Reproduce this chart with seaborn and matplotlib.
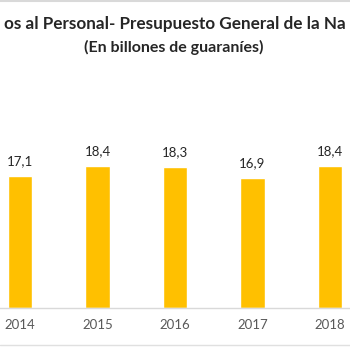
import matplotlib
matplotlib.use("Agg")
import matplotlib.pyplot as plt
import seaborn as sns
import pandas as pd
from matplotlib.lines import Line2D

################ DATA ################
years = ['2014', '2015', '2016', '2017', '2018']
values = [17.1, 18.4, 18.3, 16.9, 18.4]
value_labels = ['17,1', '18,4', '18,3', '16,9', '18,4']

# title as it shows in the (cropped) reference
title = "os al Personal- Presupuesto General de la Na"
subtitle = "(En billones de guaraníes)"

df = pd.DataFrame({'year': years, 'value': values})

################ STYLE ################
sns.set_style("white")
plt.rcParams['font.family'] = ['Lato', 'DejaVu Sans']

fig = plt.figure(figsize=(3.5, 3.5), dpi=100)
# axes spans full width; bottom at pixel 308 from top
ax = fig.add_axes([0.0, 42 / 350, 1.0, 238 / 350])

sns.barplot(data=df, x='year', y='value', color='#FFC000', saturation=1,
            width=0.31, ax=ax)

ax.set_xlim(-20 / 77.5, 330 / 77.5)
ax.set_ylim(0, 238 / 7.72)

for i, (v, lab) in enumerate(zip(values, value_labels)):
    ax.annotate(lab, (i, v), xytext=(0, 6), textcoords='offset points',
                ha='center', va='bottom', fontsize=9.5, color='#262626')

ax.set_xlabel('')
ax.set_ylabel('')
ax.set_yticks([])
ax.tick_params(axis='x', length=0, pad=8, labelsize=9.5, labelcolor='#595959')
for s in ['top', 'left', 'right']:
    ax.spines[s].set_visible(False)
ax.spines['bottom'].set_color('#D9D9D9')
ax.spines['bottom'].set_linewidth(1)

# chart frame lines
fig.add_artist(Line2D([0, 1], [1 - 1 / 350, 1 - 1 / 350], color='#D9D9D9', lw=1.5))
fig.add_artist(Line2D([0, 1], [5 / 350, 5 / 350], color='#E0E0E0', lw=1))

t = fig.text(0.5, 1 - 24 / 350, title, ha='center', va='center',
             fontsize=13, fontweight='bold', color='#262626')
fig.text(0.495, 1 - 47 / 350, subtitle, ha='center', va='center',
         fontsize=11.5, fontweight='bold', color='#262626')

# shrink title until it fits inside the figure
r = fig.canvas.get_renderer()
while t.get_window_extent(r).width > 344:
    t.set_fontsize(t.get_fontsize() - 0.1)

fig.savefig("out.png", dpi=100)
